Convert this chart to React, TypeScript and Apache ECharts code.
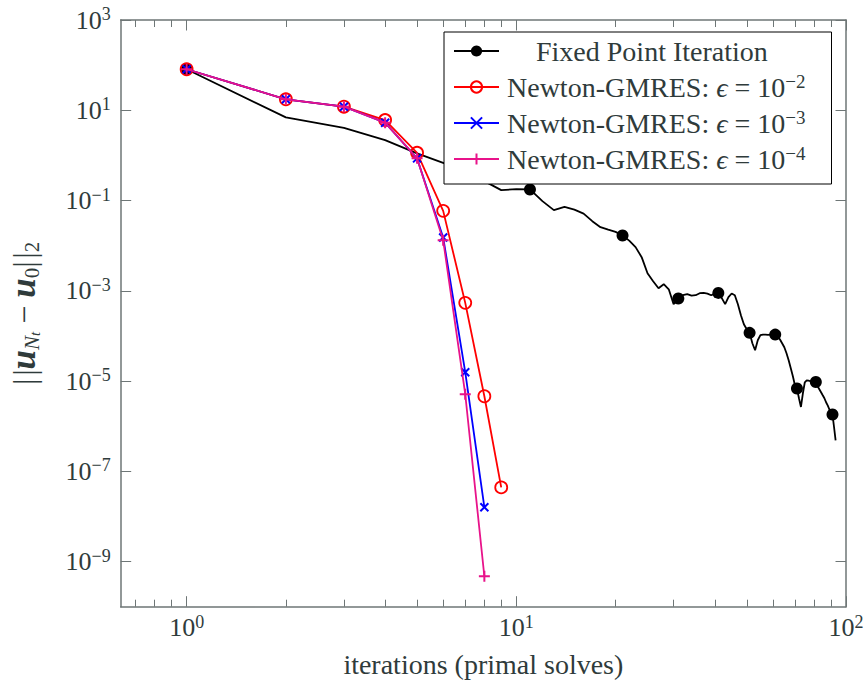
import React, { useEffect, useRef } from 'react';
import * as echarts from 'echarts';

// ---------------- data ----------------
const fpIterations = [
  1, 2, 3, 4, 5, 6, 7, 8, 9, 10, 11, 12, 13, 14, 15, 16, 17, 18, 19, 20,
  21, 22, 23, 24, 25, 26, 27, 28, 29, 30, 31, 32, 33, 34, 35, 36, 37, 38, 39, 40,
  41, 42, 43, 44, 45, 46, 47, 48, 49, 50, 51, 52, 53, 54, 55, 56, 57, 58, 59, 60,
  61, 62, 63, 64, 65, 66, 67, 68, 69, 70, 71, 72, 73, 74, 75, 76, 77, 78, 79, 80,
  81, 82, 83, 84, 85, 86, 87, 88, 89, 90, 91, 92, 93,
];
const fpResidual = [
  81, 6.96, 4.09, 2.18, 1.11, 0.685, 0.449, 0.269, 0.17, 0.179,
  0.176, 0.097, 0.0612, 0.0725, 0.0628, 0.0513, 0.0349, 0.0257, 0.0226, 0.0202,
  0.0168, 0.0129, 0.00927, 0.00556, 0.00245, 0.00163, 0.00114, 0.0014, 0.00108, 0.000505,
  0.000675, 0.000798, 0.000841, 0.000778, 0.000798, 0.000885, 0.000898, 0.000863, 0.000798, 0.000863,
  0.000898, 0.000686, 0.000505, 0.000722, 0.000871, 0.000798, 0.000505, 0.000288, 0.000182, 0.000141,
  0.000117, 6.89e-5, 4.82e-5, 8.03e-5, 1.04e-4, 1.07e-4, 1.07e-4, 1.06e-4, 1.07e-4, 1.07e-4,
  1.07e-4, 9.84e-5, 8.45e-5, 6.89e-5, 5.61e-5, 4.13e-5, 2.89e-5, 1.92e-5, 1.28e-5, 8.07e-6,
  6.82e-6, 4.16e-6, 2.67e-6, 5.36e-6, 9.4e-6, 1.04e-5, 1.02e-5, 9.9e-6, 9.9e-6, 9.8e-6,
  9.55e-6, 7.67e-6, 6.58e-6, 5.65e-6, 4.84e-6, 4.16e-6, 3.39e-6, 2.9e-6, 2.37e-6, 2.03e-6,
  1.81e-6, 9.46e-7, 4.86e-7,
];
const fpMarkEvery = 10;

const newtonIterations = [1, 2, 3, 4, 5, 6, 7, 8, 9];
const gmresEps2 = [81, 17.5, 12.0, 6.07, 1.14, 0.059, 5.4e-4, 4.6e-6, 4.4e-8];
const gmresEps3 = [81, 17.5, 12.0, 5.3, 0.86, 0.0152, 1.57e-5, 1.6e-8];
const gmresEps4 = [81, 17.5, 12.0, 5.3, 0.86, 0.0132, 5.1e-6, 4.7e-10];

const seriesNames = [
  'Fixed Point Iteration',
  'Newton-GMRES: ϵ = 10^-2',
  'Newton-GMRES: ϵ = 10^-3',
  'Newton-GMRES: ϵ = 10^-4',
];
const epsExponents = ['−2', '−3', '−4'];

const xMajorTicks = [1, 10, 100];
const xMinorTicks = [0.7, 0.8, 0.9, 2, 3, 4, 5, 6, 7, 8, 9, 20, 30, 40, 50, 60, 70, 80, 90];
const yMajorTicks = [1e3, 1e1, 1e-1, 1e-3, 1e-5, 1e-7, 1e-9];

const X_MIN = 0.631;
const X_MAX = 100;
const Y_MIN = 1e-10;
const Y_MAX = 1e3;

// ---------------- style ----------------
const FONT = '"Liberation Serif", "Times New Roman", serif';
const TXT = '#2f3b3b';
const AX = '#6e7676';

const expStr = (v: number) => {
  const e = Math.round(Math.log10(v));
  return e < 0 ? '−' + -e : String(e);
};
const powLabel = (v: number) => `{b|10}{s|${expStr(v)}}`;

const tickRich = {
  b: { fontFamily: FONT, fontSize: 26, color: TXT, lineHeight: 30 },
  s: { fontFamily: FONT, fontSize: 18, color: TXT, lineHeight: 18, verticalAlign: 'top' },
};

const axisBase = (type: 'x' | 'y') => ({
  type: 'log',
  logBase: 10,
  min: type === 'x' ? X_MIN : Y_MIN,
  max: type === 'x' ? X_MAX : Y_MAX,
  splitLine: { show: false },
  minorTick: { show: false },
  minorSplitLine: { show: false },
});

const frameAxis = (type: 'x' | 'y', position: string, ticks: number[], len: number, showLine: boolean) => ({
  ...axisBase(type),
  position,
  axisLine: { show: showLine, onZero: false, lineStyle: { color: AX, width: 1.5 } },
  axisTick: { show: true, inside: true, length: len, customValues: ticks, lineStyle: { color: AX, width: 1 } },
  axisLabel: { show: false },
});

export default function App() {
  const ref = useRef<HTMLDivElement>(null);

  useEffect(() => {
    if (!ref.current) return;
    const chart = echarts.init(ref.current, undefined, { renderer: 'svg' });

    const fpData = fpIterations.map((x, i) => ({
      value: [x, fpResidual[i]],
      symbol: i % fpMarkEvery === 0 ? 'circle' : 'none',
    }));
    const nData = (arr: number[]) => arr.map((y, i) => [newtonIterations[i], y]);

    const legendFormatter = (name: string) => {
      const idx = seriesNames.indexOf(name);
      if (idx === 0) return `{fp|${name}}`;
      return `{n0|Newton-GMRES: }{it|ϵ}{n| = 10}{s|${epsExponents[idx - 1]}}`;
    };

    const option: any = {
      animation: false,
      backgroundColor: '#ffffff',
      grid: { left: 120.7, right: 21, top: 20, bottom: 75.3, containLabel: false, outerBoundsMode: 'none' },
      xAxis: [
        {
          ...axisBase('x'),
          position: 'bottom',
          axisLine: { show: true, onZero: false, lineStyle: { color: AX, width: 1.5 } },
          axisTick: { show: true, inside: true, length: 10.5, customValues: xMajorTicks, lineStyle: { color: AX, width: 1 } },
          axisLabel: { show: true, customValues: xMajorTicks, formatter: powLabel, rich: tickRich, margin: 6 },
          name: 'iterations (primal solves)',
          nameLocation: 'middle',
          nameGap: 44,
          nameTextStyle: { fontFamily: FONT, fontSize: 28, color: TXT },
        },
        frameAxis('x', 'bottom', xMinorTicks, 7, false),
        frameAxis('x', 'top', xMajorTicks, 10.5, true),
        frameAxis('x', 'top', xMinorTicks, 7, false),
      ],
      yAxis: [
        {
          ...axisBase('y'),
          position: 'left',
          axisLine: { show: true, onZero: false, lineStyle: { color: AX, width: 1.5 } },
          axisTick: { show: true, inside: true, length: 10.5, customValues: yMajorTicks, lineStyle: { color: AX, width: 1 } },
          axisLabel: { show: true, customValues: yMajorTicks, formatter: powLabel, rich: tickRich, margin: 10, align: 'right' },
          name: '{b||\u200a|}{bi|u}{sub|N}{ss|t}{b|\u2005−\u2005}{bi|u}{sub0|0}{b||\u200a|}{sub0|2}',
          nameLocation: 'middle',
          nameRotate: 90,
          nameGap: 78,
          nameTextStyle: {
            fontFamily: FONT,
            fontSize: 32,
            color: TXT,
            lineHeight: 38,
            rich: {
              b: { fontFamily: FONT, fontSize: 32, color: TXT, lineHeight: 38 },
              bi: { fontFamily: FONT, fontSize: 35, fontStyle: 'italic', fontWeight: 'bold', color: TXT, lineHeight: 38 },
              sub: { fontFamily: FONT, fontSize: 21, fontStyle: 'italic', color: TXT, lineHeight: 20, verticalAlign: 'bottom' },
              sub0: { fontFamily: FONT, fontSize: 21, color: TXT, lineHeight: 20, verticalAlign: 'bottom' },
              ss: { fontFamily: FONT, fontSize: 15, fontStyle: 'italic', color: TXT, lineHeight: 11, verticalAlign: 'bottom' },
            },
          },
        },
        frameAxis('y', 'right', yMajorTicks, 10.5, true),
      ],
      legend: {
        show: true,
        orient: 'vertical',
        left: 444,
        top: 32,
        backgroundColor: '#ffffff',
        borderColor: '#000000',
        borderWidth: 1,
        borderRadius: 0,
        padding: [4, 26, 10, 9],
        itemWidth: 45,
        itemHeight: 14,
        itemGap: 6,
        data: seriesNames,
        formatter: legendFormatter,
        textStyle: {
          fontFamily: FONT,
          fontSize: 28,
          color: TXT,
          lineHeight: 30,
          rich: {
            fp: { fontFamily: FONT, fontSize: 28, color: TXT, lineHeight: 30, padding: [0, 0, 0, 32] },
            n0: { fontFamily: FONT, fontSize: 28, color: TXT, lineHeight: 30, padding: [0, 0, 0, 3] },
            n: { fontFamily: FONT, fontSize: 28, color: TXT, lineHeight: 30 },
            it: { fontFamily: FONT, fontSize: 28, fontStyle: 'italic', color: TXT, lineHeight: 30 },
            s: { fontFamily: FONT, fontSize: 19, color: TXT, lineHeight: 19, verticalAlign: 'top' },
          },
        },
      },
      series: [
        {
          name: seriesNames[0],
          type: 'line',
          xAxisIndex: 0,
          yAxisIndex: 0,
          data: fpData,
          symbol: 'circle',
          symbolSize: 12,
          showSymbol: true,
          showAllSymbol: true,
          lineStyle: { color: '#000000', width: 1.8 },
          itemStyle: { color: '#000000' },
          z: 2,
        },
        {
          name: seriesNames[1],
          type: 'line',
          data: nData(gmresEps2),
          symbol: 'circle',
          symbolSize: 12,
          showAllSymbol: true,
          lineStyle: { color: '#ff0000', width: 1.8 },
          itemStyle: { color: 'rgba(255,255,255,0)', borderColor: '#ff0000', borderWidth: 1.8 },
          z: 3,
        },
        {
          name: seriesNames[2],
          type: 'line',
          data: nData(gmresEps3),
          symbol: 'path://M0,0L10,10M0,10L10,0',
          symbolSize: 8,
          showAllSymbol: true,
          lineStyle: { color: '#0000ff', width: 1.8 },
          itemStyle: { color: '#0000ff', borderColor: '#0000ff', borderWidth: 2 },
          z: 4,
        },
        {
          name: seriesNames[3],
          type: 'line',
          data: nData(gmresEps4),
          symbol: 'path://M5,0L5,10M0,5L10,5',
          symbolSize: 11,
          showAllSymbol: true,
          lineStyle: { color: '#e8138a', width: 1.8 },
          itemStyle: { color: '#e8138a', borderColor: '#e8138a', borderWidth: 2 },
          z: 5,
        },
      ],
    };

    chart.setOption(option);
    return () => chart.dispose();
  }, []);

  return (
    <div
      ref={ref}
      style={{ position: 'fixed', left: 0, top: 0, width: 867, height: 682, background: '#fff' }}
    />
  );
}
